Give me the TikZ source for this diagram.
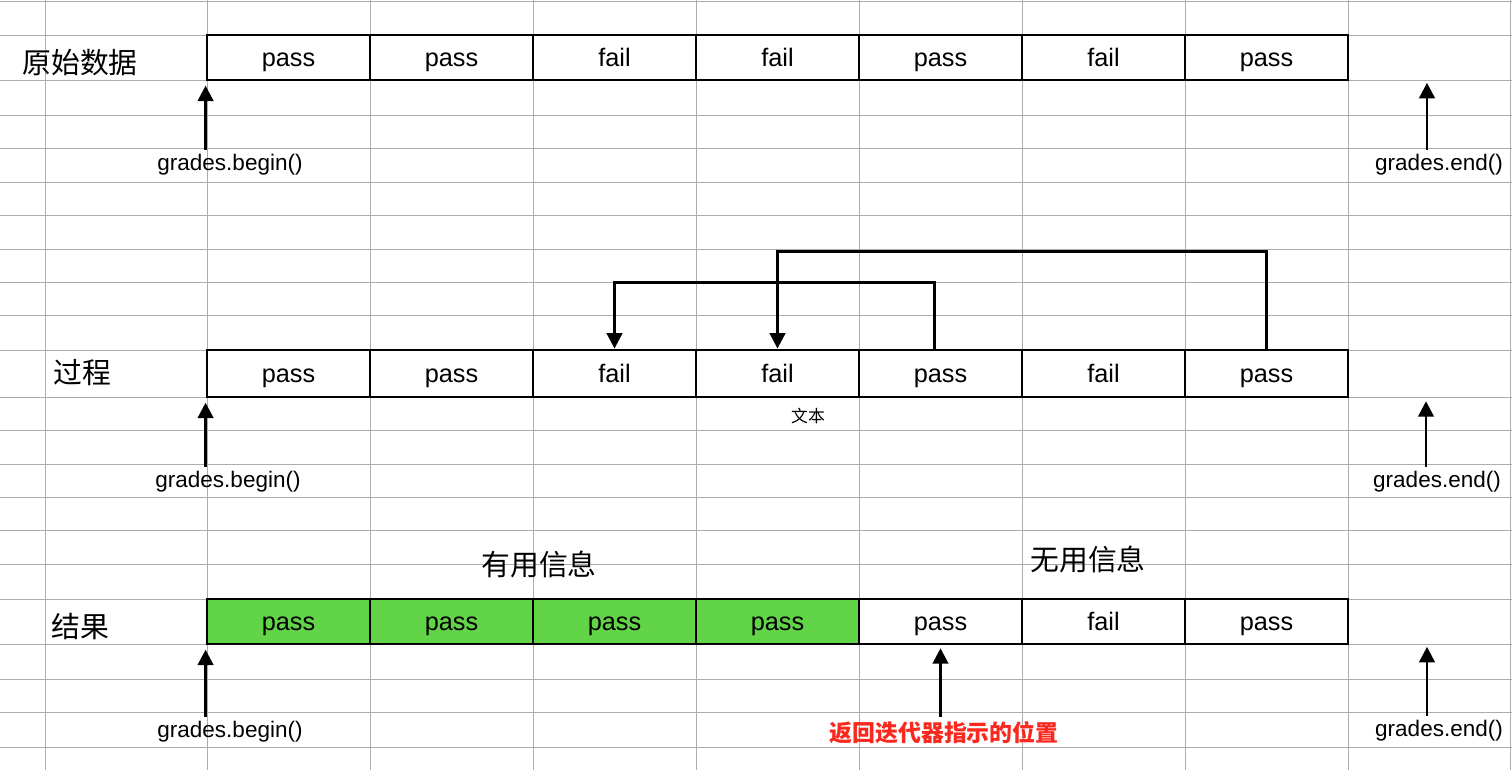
\documentclass[tikz,border=0pt]{standalone}
\usepackage{fontspec}
\setmainfont{Liberation Sans}
\newfontfamily\cjk{Noto Sans CJK SC}
\usetikzlibrary{arrows.meta}
\definecolor{gridgray}{RGB}{172,172,172}
\definecolor{passgreen}{RGB}{98,212,72}
\definecolor{hintred}{RGB}{250,40,30}

\begin{document}
\begin{tikzpicture}[x=0.025cm,y=-0.025cm,
    cell/.style={draw,fill=white,line width=2pt,minimum width=4.075cm,minimum height=1.125cm,
      inner sep=0pt,text height=14pt,text depth=1.2pt,font=\fontsize{18}{20}\selectfont},
    ptr/.style={line width=2pt,-{Triangle[length=11pt,width=11pt]}},
    iterlbl/.style={font=\fontsize{16}{18}\selectfont},
    rowlbl/.style={font=\cjk\fontsize{20.5}{24}\selectfont}]
    \useasboundingbox (0,0) rectangle (1512,770);
    \fill[white] (0,0) rectangle (1512,770);
    \foreach \x in {45,207,370,533,696,859,1022,1185,1348,1510}
      \draw[gridgray,line width=0.7pt] (\x,0) -- (\x,770);
    \foreach \y in {1,35,80,115,148,182,215,249,282,315,350,397,430,464,497,530,564,599,644,679,712,747}
      \draw[gridgray,line width=0.7pt] (0,\y) -- (1512,\y);

    \node[rowlbl] (raw) at (80,63) {原始数据};
    \foreach \t [count=\i] in {pass,pass,fail,fail,pass,fail,pass}
      \node[cell] (a\i) at (125.5+163*\i,57.5) {\t};
    \node[iterlbl] (begin1) at (230,165) {grades.begin()};
    \node[iterlbl] (end1) at (1439,165) {grades.end()};
    \coordinate (e1) at (1427,80);
    \draw[ptr,shorten >=3pt] (begin1.north -| a1.south west) -- (a1.south west);
    \draw[ptr,shorten >=2pt] (end1.north -| e1) -- (e1);

    \node[rowlbl] (proc) at (82,373) {过程};
    \foreach \t [count=\i] in {pass,pass,fail,fail,pass,fail,pass}
      \node[cell,minimum height=1.175cm] (b\i) at (125.5+163*\i,373.5) {\t};
    \draw[ptr] ([xshift=-0.15cm]b5.north) -- ++(0,-66) -| (b3.north);
    \draw[ptr] (b7.north) -- ++(0,-97) -| (b4.north);
    \node[font=\cjk\fontsize{12}{14}\selectfont] (txt) at (808,416) {文本};
    \node[iterlbl] (begin2) at (228,482) {grades.begin()};
    \node[iterlbl] (end2) at (1437,482) {grades.end()};
    \coordinate (e2) at (1426,397);
    \draw[ptr,shorten >=3pt] (begin2.north -| b1.south west) -- (b1.south west);
    \draw[ptr,shorten >=3pt] (end2.north -| e2) -- (e2);

    \node[rowlbl] (res) at (80,627) {结果};
    \node[rowlbl] (useful) at (539,564) {有用信息};
    \node[rowlbl] (useless) at (1088,559) {无用信息};
    \foreach \i in {1,...,4}
      \node[cell,fill=passgreen] (c\i) at (125.5+163*\i,621.5) {pass};
    \foreach \t [count=\i from 5] in {pass,fail,pass}
      \node[cell] (c\i) at (125.5+163*\i,621.5) {\t};
    \node[iterlbl] (begin3) at (230,732) {grades.begin()};
    \node[iterlbl] (end3) at (1439,731) {grades.end()};
    \node[font=\cjk\bfseries\fontsize{16.3}{18}\selectfont,text=hintred] (pos) at (944,733) {返回迭代器指示的位置};
    \coordinate (e3) at (1427,644);
    \draw[ptr,shorten >=3pt] (begin3.north -| c1.south west) -- (c1.south west);
    \draw[ptr,shorten >=2pt] (pos.north -| c5.south) -- (c5.south);
    \draw[ptr,shorten >=2pt] (end3.north -| e3) -- (e3);
  \end{tikzpicture}
\end{document}
